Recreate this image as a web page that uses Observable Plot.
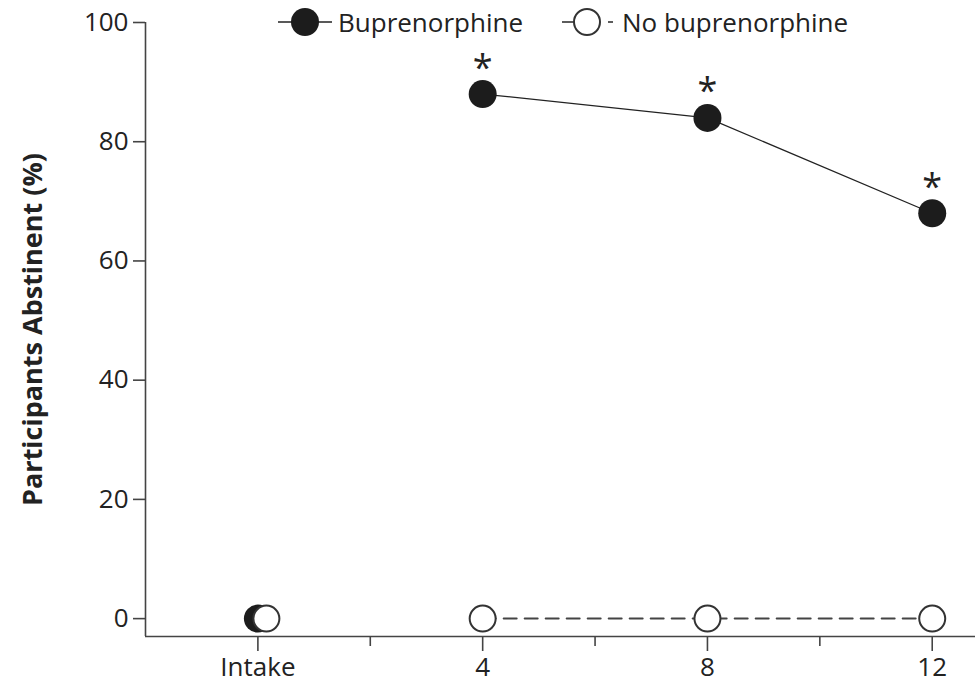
<!DOCTYPE html>
<html>
<head>
<meta charset="utf-8">
<script src="https://cdn.jsdelivr.net/npm/d3@7"></script>
<script src="https://cdn.jsdelivr.net/npm/@observablehq/plot@0.6"></script>
<style>
  body { margin: 0; background: #fff; }
  #wrap { position: relative; width: 975px; height: 683px; font-family: "Open Sans", sans-serif; color: #222; }
  .leg { position: absolute; display: flex; align-items: center; font-size: 26px; line-height: 1; white-space: nowrap; }
  .leg svg { display: block; }
</style>
</head>
<body>
<div id="wrap"></div>
<script>
// ---- data ----
const weeks = [0, 4, 8, 12];
const weekLabels = ["Intake", "4", "8", "12"];
const bupValues = [0, 88, 84, 68];
const noBupValues = [0, 0, 0, 0];
const significant = [false, true, true, true];
const yTicks = [0, 20, 40, 60, 80, 100];
const minorTicks = [2, 6, 10];
const xDomain = [-2, 12.77];
const yDomain = [-3, 100];
const seriesNames = ["Buprenorphine", "No buprenorphine"];
const yLabel = "Participants Abstinent (%)";

const data = weeks.map((w, i) => ({
  week: w, bup: bupValues[i], nobup: noBupValues[i], sig: significant[i]
}));

const chart = Plot.plot({
  width: 975,
  height: 683,
  marginLeft: 145,
  marginRight: 0,
  marginTop: 22,
  marginBottom: 47,
  style: { fontFamily: "Open Sans", fontSize: "26px", color: "#222", background: "white" },
  x: { domain: xDomain },
  y: { domain: yDomain },
  marks: [
    Plot.ruleY([yDomain[0]], { stroke: "#444", strokeWidth: 1.6 }),
    Plot.ruleX([xDomain[0]], { stroke: "#444", strokeWidth: 1.6 }),
    Plot.axisY({ ticks: yTicks, tickSize: 12, tickPadding: 5, label: null, stroke: "#444", strokeWidth: 1.6 }),
    Plot.axisY({ ticks: [], label: yLabel, labelAnchor: "center", labelOffset: 123, labelArrow: "none", fontWeight: "bold", fontSize: 27 }),
    Plot.axisX({ ticks: weeks, tickFormat: d => weekLabels[weeks.indexOf(d)], tickSize: 15, tickPadding: 6, label: null, stroke: "#444", strokeWidth: 1.6 }),
    Plot.axisX({ ticks: minorTicks, tickFormat: () => "", tickSize: 10, label: null, stroke: "#444", strokeWidth: 1.6 }),
    Plot.line(data.filter(d => d.week > 0), { x: "week", y: "bup", stroke: "#222", strokeWidth: 1.3 }),
    Plot.line(data.filter(d => d.week > 0), { x: "week", y: "nobup", stroke: "#444", strokeWidth: 2, strokeDasharray: "13,8" }),
    Plot.dot(data, { x: "week", y: "bup", r: 14, fill: "#1c1c1c" }),
    Plot.dot(data, { filter: d => d.week > 0, x: "week", y: "nobup", r: 13, fill: "white", stroke: "#333", strokeWidth: 2 }),
    Plot.dot(data, { filter: d => d.week === 0, x: "week", y: "nobup", r: 13, fill: "white", stroke: "#333", strokeWidth: 2, dx: 8.5 }),
    Plot.text(data, { filter: d => d.sig, x: "week", y: "bup", text: () => "*", fontSize: 36, dy: -26, fill: "#222" })
  ]
});

const wrap = document.getElementById("wrap");
wrap.appendChild(chart);

// legend overlay
const leg1 = document.createElement("div");
leg1.className = "leg";
leg1.style.left = "278px";
leg1.style.top = "5px";
leg1.innerHTML = `<svg width="56" height="34"><line x1="0" x2="54" y1="17" y2="17" stroke="#222" stroke-width="1.6"/><circle cx="27" cy="17" r="14" fill="#1c1c1c"/></svg><span style="margin-left:4px">${seriesNames[0]}</span>`;
wrap.appendChild(leg1);

const leg2 = document.createElement("div");
leg2.className = "leg";
leg2.style.left = "562px";
leg2.style.top = "5px";
leg2.innerHTML = `<svg width="52" height="34"><line x1="0" x2="12" y1="17" y2="17" stroke="#333" stroke-width="1.6"/><circle cx="25" cy="17" r="13" fill="white" stroke="#333" stroke-width="2"/><line x1="46" x2="51" y1="17" y2="17" stroke="#333" stroke-width="1.6"/></svg><span style="margin-left:8px">${seriesNames[1]}</span>`;
wrap.appendChild(leg2);
</script>
</body>
</html>
